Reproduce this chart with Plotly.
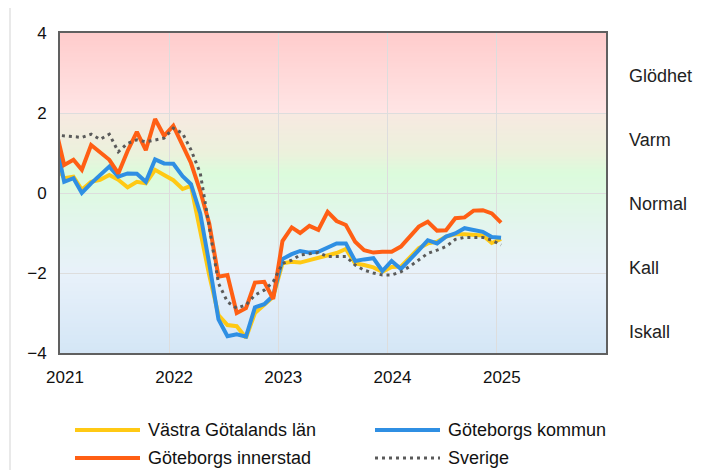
import plotly.graph_objects as go

# ---- data (monthly, Dec 2020 - Jan 2025) ----
months = [f"{y}-{m:02d}-15" for y, m in
          [(2020, 12)] + [(yy, mm) for yy in (2021, 2022, 2023, 2024) for mm in range(1, 13)] + [(2025, 1)]]

vastra_gotaland = [0.75,
    0.37, 0.41, 0.08, 0.28, 0.33, 0.45, 0.33, 0.14, 0.28, 0.24, 0.58, 0.45,
    0.32, 0.10, 0.18, -0.95, -2.05, -3.05, -3.30, -3.33, -3.62, -3.00, -2.80, -2.60,
    -1.76, -1.72, -1.74, -1.68, -1.63, -1.58, -1.50, -1.40, -1.76, -1.80, -1.86, -1.97,
    -1.85, -1.84, -1.63, -1.38, -1.26, -1.22, -1.09, -1.03, -1.03, -1.05, -1.06, -1.25,
    -1.15]

goteborg_kommun = [1.40,
    0.28, 0.37, 0.00, 0.24, 0.45, 0.66, 0.41, 0.49, 0.48, 0.28, 0.84, 0.74,
    0.73, 0.42, 0.22, -0.51, -1.76, -3.16, -3.58, -3.53, -3.59, -2.86, -2.78, -2.57,
    -1.65, -1.53, -1.45, -1.49, -1.47, -1.36, -1.26, -1.26, -1.70, -1.66, -1.63, -1.95,
    -1.70, -1.90, -1.68, -1.43, -1.18, -1.26, -1.09, -1.01, -0.88, -0.93, -0.97, -1.10,
    -1.12]

goteborg_innerstad = [1.68,
    0.70, 0.83, 0.58, 1.20, 1.03, 0.83, 0.49, 1.05, 1.53, 1.07, 1.85, 1.43,
    1.68, 1.18, 0.75, 0.05, -0.76, -2.09, -2.05, -3.00, -2.88, -2.24, -2.22, -2.65,
    -1.20, -0.86, -1.00, -0.82, -0.92, -0.47, -0.70, -0.80, -1.22, -1.43, -1.49, -1.47,
    -1.47, -1.34, -1.09, -0.84, -0.72, -0.94, -0.93, -0.63, -0.61, -0.44, -0.43, -0.51,
    -0.74]

sverige = [1.45,
    1.43, 1.41, 1.39, 1.47, 1.34, 1.47, 1.03, 1.24, 1.33, 1.28, 1.33, 1.37,
    1.62, 1.49, 1.08, 0.50, -0.84, -2.26, -2.72, -2.88, -2.80, -2.55, -2.43, -2.22,
    -1.76, -1.68, -1.55, -1.51, -1.49, -1.59, -1.59, -1.59, -1.80, -1.93, -2.00, -2.05,
    -2.05, -1.97, -1.84, -1.68, -1.51, -1.43, -1.34, -1.16, -1.11, -1.11, -1.11, -1.18,
    -1.30]

year_ticks = ["2021-01-01", "2022-01-01", "2023-01-01", "2024-01-01", "2025-01-01"]
year_labels = ["2021", "2022", "2023", "2024", "2025"]

zone_labels = ["Glödhet", "Varm", "Normal", "Kall", "Iskall"]
zone_positions = [2.93, 1.33, -0.27, -1.87, -3.47]

series_names = ["Västra Götalands län", "Göteborgs kommun", "Göteborgs innerstad", "Sverige"]

# ---- styling ----
FONT = "Liberation Sans, Arial, sans-serif"
colors = ["#FFC914", "#2F8FE3", "#FF5F14", "#5A5A5A"]
dashes = ["solid", "solid", "solid", "3px,4px"]
widths = [4, 4, 4, 3]

fig = go.Figure()
for name, vals, c, d, w in zip(series_names,
                               [vastra_gotaland, goteborg_kommun, goteborg_innerstad, sverige],
                               colors, dashes, widths):
    fig.add_trace(go.Scatter(x=months, y=vals, mode="lines", name=name,
                             line=dict(color=c, width=w, dash=d),
                             showlegend=False, hoverinfo="skip"))

# ---- background gradient (strips) ----
stops = [(-4.0, (212, 230, 246)), (-2.0, (232, 241, 250)), (-1.0, (228, 244, 240)),
         (0.0, (222, 249, 226)), (0.5, (220, 251, 220)), (1.0, (236, 241, 220)),
         (1.99, (247, 233, 225)), (2.0, (255, 229, 229)), (4.0, (255, 204, 204))]


def col_at(v):
    for (a, ca), (b, cb) in zip(stops[:-1], stops[1:]):
        if a <= v <= b:
            t = (v - a) / (b - a) if b > a else 0
            return "rgb(%d,%d,%d)" % tuple(round(ca[i] + (cb[i] - ca[i]) * t) for i in range(3))
    return "rgb(255,255,255)"


shapes = []
step = 0.05
n = int(8 / step)
for i in range(n):
    y0 = -4 + i * step
    y1 = y0 + step
    shapes.append(dict(type="rect", xref="paper", yref="y", x0=0, x1=1, y0=y0, y1=y1 + 0.002,
                       fillcolor=col_at((y0 + y1) / 2), line=dict(width=0), layer="below"))

# ---- coordinate helpers (screen px -> paper), page body has 8px margin ----
PW, PH, L, T = 546.0, 320.0, 60.0, 33.0


def px(x):
    return (x - L) / PW


def py(y):
    return (T + PH - y) / PH


# outer chart border
shapes.append(dict(type="rect", xref="paper", yref="paper",
                   x0=px(10), x1=px(713), y0=py(480), y1=py(6),
                   line=dict(color="#E2E2E2", width=1.5), fillcolor="rgba(0,0,0,0)", layer="below"))

annotations = []
legend_pos = [(75, 430), (375, 430), (75, 458), (375, 458)]
for name, c, d, w, (lx, ly) in zip(series_names, colors, dashes, widths, legend_pos):
    shapes.append(dict(type="line", xref="paper", yref="paper",
                       x0=px(lx), x1=px(lx + 65), y0=py(ly), y1=py(ly),
                       line=dict(color=c, width=w, dash=d)))
    annotations.append(dict(text=name, xref="paper", yref="paper", x=px(lx + 71), y=py(ly),
                            xanchor="left", yanchor="middle", showarrow=False,
                            font=dict(family=FONT, size=18, color="#111111")))

for lab, pos in zip(zone_labels, zone_positions):
    annotations.append(dict(text=lab, xref="paper", yref="y", x=px(627), y=pos,
                            xanchor="left", yanchor="middle", showarrow=False,
                            font=dict(family=FONT, size=18, color="#222222")))

fig.update_layout(
    width=707, height=462,
    margin=dict(l=52, r=109, t=25, b=117),
    paper_bgcolor="white", plot_bgcolor="rgba(0,0,0,0)",
    font=dict(family=FONT, size=17, color="#111111"),
    shapes=shapes, annotations=annotations,
    showlegend=False,
    xaxis=dict(type="date", range=["2021-01-01", "2026-01-01"],
               tickvals=year_ticks, ticktext=year_labels,
               showgrid=True, gridcolor="#DDDDDD", gridwidth=1,
               showline=True, linecolor="#606060", linewidth=2, mirror=True,
               ticks="", ticklabelshift=5, ticklabelstandoff=8,
               tickfont=dict(family=FONT, size=17, color="#111111"),
               zeroline=False, fixedrange=True),
    yaxis=dict(range=[-4, 4], tickvals=[-4, -2, 0, 2, 4],
               showgrid=True, gridcolor="#DDDDDD", gridwidth=1,
               showline=True, linecolor="#606060", linewidth=2, mirror=True,
               ticks="", ticklabelstandoff=8,
               tickfont=dict(family=FONT, size=17, color="#111111"),
               zeroline=False, fixedrange=True),
)

fig.write_html("out.html")
